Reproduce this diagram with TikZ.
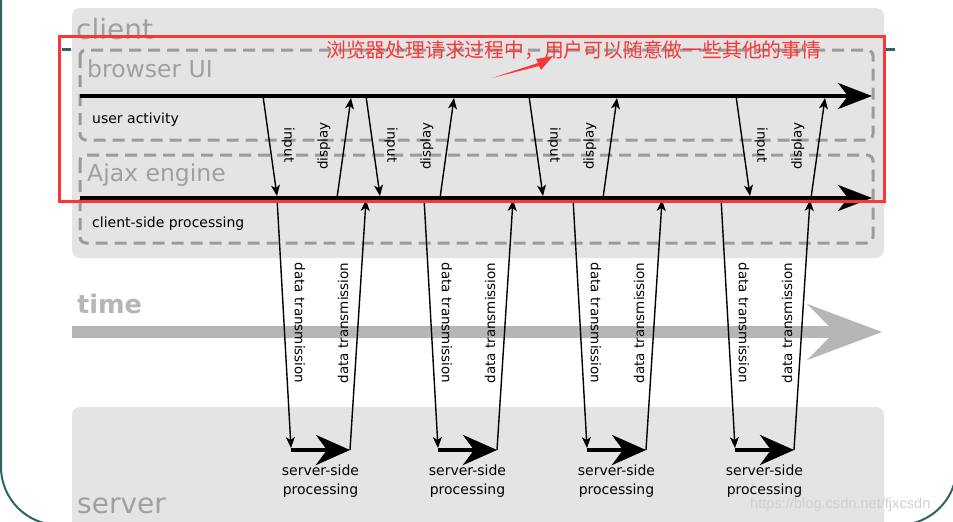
\documentclass[tikz,border=0pt]{standalone}
\usepackage{fontspec}
\setmainfont{DejaVu Sans}
\newfontfamily\cjkfont{Noto Sans CJK SC}
\newfontfamily\markfont{Liberation Sans}
\usetikzlibrary{arrows.meta}

\definecolor{boxgray}{RGB}{228,228,228}
\definecolor{dashgray}{RGB}{155,155,155}
\definecolor{labelgray}{RGB}{160,160,160}
\definecolor{timegray}{RGB}{182,182,182}
\definecolor{frameteal}{RGB}{47,100,100}
\definecolor{noteRed}{RGB}{250,55,55}

\begin{document}
\begin{tikzpicture}[
        x = 1pt, y = -1pt,
        >= {Stealth[length = 11pt, width = 9pt, inset = 3pt]},
        lane/.style = {draw = dashgray, line width = 3pt, dash pattern = on 12pt off 7pt, rounded corners = 6pt},
        timeline/.style = {line width = 4.5pt, -{Stealth[length = 34pt, width = 26pt, inset = 10pt]}},
        msg/.style = {->, line width = 1.4pt},
        biglabel/.style = {anchor = base west, inner sep = 0pt, text = labelgray},
        smalllabel/.style = {anchor = base west, inner sep = 0pt, font = \fontsize{14}{17}\selectfont},
        arrowlabel/.style = {inner sep = 0pt, font = \fontsize{13.5}{16}\selectfont}
    ]

        \fill[white] (0,0) rectangle (953,522);
        \useasboundingbox (0,0) rectangle (953,522);

        % slide frame behind the picture
        \draw[frameteal, line width = 2pt, rounded corners = 58pt] (1,-80) rectangle (956.6,525);
        \draw[frameteal, line width = 3pt] (62,49) -- (71,49) (885,49) -- (895,49);

        % client and server areas
        \fill[boxgray, rounded corners = 8pt] (72,8) rectangle (884,258);
        \fill[boxgray, rounded corners = 8pt] (72,407) rectangle (884,540);

        \node[biglabel, font = \fontsize{28}{34}\selectfont] (client) at (76,39) {client};
        \node[biglabel, font = \fontsize{28}{34}\selectfont] (server) at (77,513) {server};

        \draw[lane] (80,50) rectangle (873,140);
        \draw[lane] (80,155) rectangle (873,243);
        \node[biglabel, font = \fontsize{23.5}{28}\selectfont] (browserUI) at (87,77) {browser UI};
        \node[biglabel, font = \fontsize{23.5}{28}\selectfont] (ajaxEngine) at (87,181) {Ajax engine};
        \node[smalllabel] (userActivity) at (92,123) {user activity};
        \node[smalllabel] (clientSide) at (92,227) {client-side processing};

        % time axis
        \coordinate (t-start) at (72,332);
        \coordinate (t-end) at (882,332);
        \draw[timegray, line width = 12pt, -{Stealth[length = 74pt, width = 55pt, inset = 27pt]}] (t-start) -- (t-end);
        \node[biglabel, text = timegray, font = \bfseries\fontsize{25.5}{30}\selectfont] (time) at (77,313) {time};

        % the two client time lines
        \coordinate (ua-start) at (80,96);
        \coordinate (ua-end) at (872,96);
        \coordinate (cs-start) at (80,198);
        \coordinate (cs-end) at (872,198);
        \draw[timeline] (ua-start) -- (ua-end);
        \draw[timeline] (cs-start) -- (cs-end);

        % one round trip per loop step: input top / display bottom / request start
        \foreach \i/\u/\p/\d in {1/263/337/277, 2/366/440/424, 3/529/603/573, 4/736/811/721} {
            \coordinate (in-\i-top) at (\u,96);
            \coordinate (in-\i-bot) at (\u+14,196);
            \coordinate (disp-\i-bot) at (\p,198);
            \coordinate (disp-\i-top) at (\p+14,98);
            \draw[msg] (in-\i-top) -- (in-\i-bot);
            \draw[msg] (disp-\i-bot) -- (disp-\i-top);
            \node[arrowlabel, rotate = -90] (in-\i-lbl) at (\u+25,145) {input};
            \node[arrowlabel, rotate = 90] (disp-\i-lbl) at (\p-13,146) {display};

            \coordinate (req-\i-top) at (\d,198);
            \coordinate (req-\i-bot) at (\d+14,448);
            \coordinate (srv-\i-start) at (\d+14,450);
            \coordinate (srv-\i-end) at (\d+73,450);
            \coordinate (resp-\i-top) at (\d+89,200);
            \draw[msg] (req-\i-top) -- (req-\i-bot);
            \draw[line width = 4.5pt, -{Stealth[length = 34pt, width = 30pt, inset = 11pt]}] (srv-\i-start) -- (srv-\i-end);
            \draw[msg] (srv-\i-end) -- (resp-\i-top);
            \node[arrowlabel, rotate = -90] (req-\i-lbl) at (\d+23,323) {data transmission};
            \node[arrowlabel, rotate = 90] (resp-\i-lbl) at (\d+66,323) {data transmission};
            \node[align = center, anchor = north, inner sep = 0pt, font = \fontsize{14}{19}\selectfont] (srv-\i-lbl) at (\d+43.5,465) {server-side\\processing};
        }

        % annotation added on top
        \draw[noteRed, line width = 3pt] (59,36) rectangle (884,201);
        \node[anchor = west, inner sep = 0pt, text = noteRed, font = \cjkfont\fontsize{19.8}{22}\selectfont] (note) at (326,50) {浏览器处理请求过程中，用户可以随意做一些其他的事情};
        \fill[noteRed] (492,78) -- (538,63) -- (536,59) -- (553,56) -- (541,70) -- (539,66) -- cycle;

        \node[anchor = base west, inner sep = 0pt, text = black!18, font = \markfont\fontsize{14.6}{17}\selectfont] (mark) at (750,508) {https://blog.csdn.net/fjxcsdn};

\end{tikzpicture}
\end{document}
